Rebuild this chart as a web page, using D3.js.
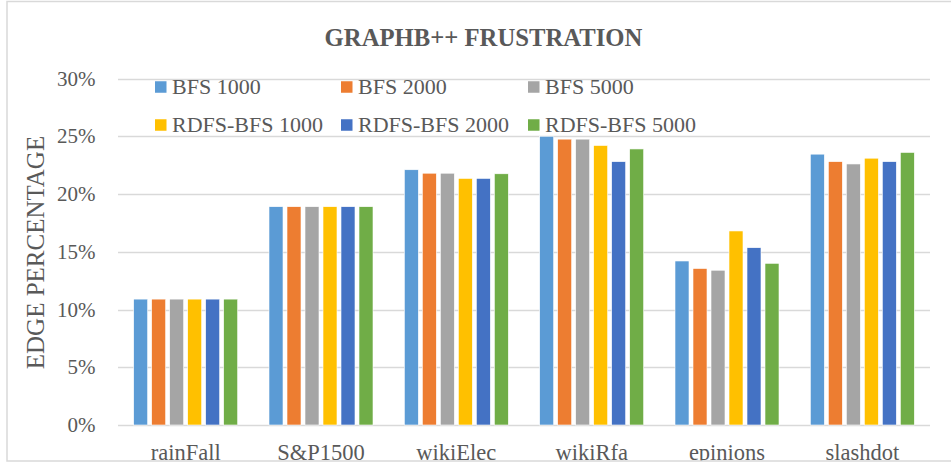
<!DOCTYPE html>
<html>
<head>
<meta charset="utf-8">
<script src="https://cdn.jsdelivr.net/npm/d3@7/dist/d3.min.js"></script>
<style>
  html, body { margin: 0; padding: 0; background: #fff; }
  svg { display: block; }
  text { font-family: "Liberation Serif", "Times New Roman", serif; }
</style>
</head>
<body>
<svg id="chart" width="951" height="466"></svg>
<script>
const categories = ["rainFall", "S&P1500", "wikiElec", "wikiRfa", "epinions", "slashdot"];
const seriesNames = ["BFS 1000", "BFS 2000", "BFS 5000", "RDFS-BFS 1000", "RDFS-BFS 2000", "RDFS-BFS 5000"];
const bfs1000     = [10.9, 18.9, 22.1, 25.0, 14.2, 23.45];
const bfs2000     = [10.9, 18.9, 21.8, 24.75, 13.55, 22.8];
const bfs5000     = [10.9, 18.9, 21.8, 24.75, 13.4, 22.6];
const rdfsbfs1000 = [10.9, 18.9, 21.35, 24.2, 16.8, 23.1];
const rdfsbfs2000 = [10.9, 18.9, 21.35, 22.8, 15.35, 22.8];
const rdfsbfs5000 = [10.9, 18.9, 21.75, 23.9, 14.0, 23.6];
const seriesValues = [bfs1000, bfs2000, bfs5000, rdfsbfs1000, rdfsbfs2000, rdfsbfs5000];
const colors = ["#5B9BD5", "#ED7D31", "#A5A5A5", "#FFC000", "#4472C4", "#70AD47"];
const yTicks = [0, 5, 10, 15, 20, 25, 30];
const title = "GRAPHB++ FRUSTRATION";
const yTitle = "EDGE PERCENTAGE";

(function () {
const svg = d3.select("#chart");
const pLeft = 118, pRight = 930, pTop = 78.5, pBottom = 425;

svg.append("defs").append("clipPath").attr("id", "clipAll")
  .append("rect").attr("x", 0).attr("y", 0).attr("width", 951).attr("height", 461);

const root = svg.append("g").attr("clip-path", "url(#clipAll)");

const y = d3.scaleLinear().domain([0, 30]).range([pBottom, pTop]);
const x0 = d3.scaleBand().domain(categories).range([pLeft, pRight])
  .paddingInner(0.2315).paddingOuter(0.2315 / 2);
const x1 = d3.scaleBand().domain(seriesNames).range([0, x0.bandwidth()])
  .paddingInner(0.222).paddingOuter(0);

// gridlines
root.append("g").selectAll("line").data(yTicks).join("line")
  .attr("x1", pLeft).attr("x2", pRight)
  .attr("y1", d => Math.round(y(d)) + 0.5).attr("y2", d => Math.round(y(d)) + 0.5)
  .attr("stroke", "#d9d9d9").attr("stroke-width", 1.5);

// y axis labels
const yAxis = d3.axisLeft(y).tickValues(yTicks).tickFormat(d => d + "%").tickSize(0).tickPadding(0);
const ya = root.append("g").attr("transform", `translate(95.5,0)`).call(yAxis);
ya.select(".domain").remove();
ya.selectAll("text").attr("font-family", "Liberation Serif").attr("font-size", 21).attr("fill", "#595959");

// bars
const groups = root.append("g").selectAll("g").data(categories).join("g")
  .attr("transform", d => `translate(${x0(d)},0)`);
groups.selectAll("rect")
  .data((c, ci) => seriesNames.map((s, si) => ({ s, si, v: seriesValues[si][ci] })))
  .join("rect")
  .attr("x", d => x1(d.s))
  .attr("width", x1.bandwidth())
  .attr("y", d => y(d.v))
  .attr("height", d => y(0) - y(d.v))
  .attr("fill", d => colors[d.si])
  .attr("stroke", "#ffffff").attr("stroke-width", 0.6);

// x axis labels
const xAxis = d3.axisBottom(x0).tickSize(0).tickPadding(0);
const xa = root.append("g").attr("transform", `translate(0,459.5)`).call(xAxis);
xa.select(".domain").remove();
xa.selectAll("text").attr("font-family", "Liberation Serif").attr("font-size", 22.5).attr("fill", "#595959").attr("dy", "0").attr("y", 0);

// title
root.append("text").attr("x", 483.5).attr("y", 46).attr("text-anchor", "middle")
  .attr("font-size", 24.7).attr("font-weight", "bold").attr("fill", "#595959").text(title);

// y title
root.append("text").attr("transform", "translate(44,252.5) rotate(-90)").attr("text-anchor", "middle")
  .attr("font-size", 25).attr("fill", "#595959").text(yTitle);

// legend
const legX = [155, 341, 528];
const legY = [87, 125];
const leg = root.append("g").selectAll("g").data(seriesNames).join("g")
  .attr("transform", (d, i) => `translate(${legX[i % 3]},${legY[Math.floor(i / 3)]})`);
leg.append("rect").attr("x", 0).attr("y", -5.75).attr("width", 11.5).attr("height", 11.5)
  .attr("fill", (d, i) => colors[i]);
leg.append("text").attr("x", 17).attr("y", 7.3)
  .attr("font-size", 22).attr("fill", "#595959").text(d => d);

// border
svg.append("rect").attr("x", 7).attr("y", 1.5).attr("width", 960).attr("height", 459.5)
  .attr("fill", "none").attr("stroke", "#d9d9d9").attr("stroke-width", 1.5);
})();
</script>
</body>
</html>
